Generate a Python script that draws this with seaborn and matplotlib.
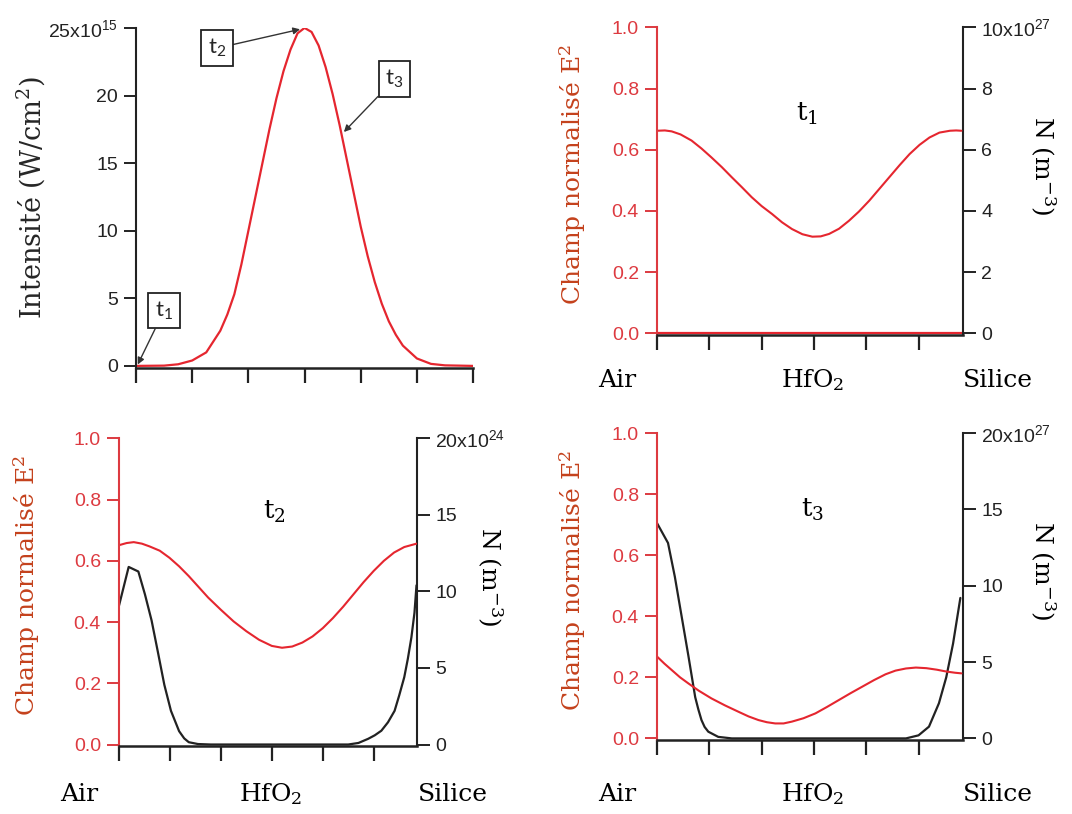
import matplotlib
matplotlib.use("Agg")
import matplotlib.pyplot as plt
import seaborn as sns

# pulse intensity (x 1e15 W/cm2) across the film
pulse_x = [0.0, 0.5, 0.75, 1.0, 1.25, 1.5, 1.625, 1.75, 1.875, 2.0, 2.125,
           2.25, 2.375, 2.5, 2.625, 2.75, 2.875, 3.0, 3.125, 3.25, 3.375,
           3.5, 3.625, 3.75, 3.875, 4.0, 4.125, 4.25, 4.375, 4.5, 4.625,
           4.75, 5.0, 5.25, 5.5, 6.0]
pulse_i = [0.0, 0.02, 0.12, 0.4, 1.0, 2.6, 3.8, 5.3, 7.5, 10.0, 12.5,
           15.0, 17.5, 19.8, 21.8, 23.4, 24.6, 25.0, 24.7, 23.7, 22.1,
           20.1, 17.8, 15.3, 12.8, 10.3, 8.1, 6.2, 4.6, 3.3, 2.3,
           1.5, 0.55, 0.15, 0.04, 0.0]

# t1: normalised field and electron density (x 1e27)
t1_x = [0.0, 0.15, 0.28, 0.45, 0.66, 0.85, 1.04, 1.24, 1.43, 1.62, 1.81,
        2.0, 2.2, 2.39, 2.58, 2.78, 2.97, 3.13, 3.29, 3.48, 3.67, 3.86,
        4.06, 4.25, 4.44, 4.64, 4.83, 5.02, 5.21, 5.4, 5.6, 5.72, 5.82]
t1_e2 = [0.662, 0.663, 0.66, 0.65, 0.63, 0.604, 0.575, 0.543, 0.51, 0.478,
         0.445, 0.416, 0.39, 0.363, 0.341, 0.324, 0.316, 0.317, 0.325,
         0.342, 0.368, 0.398, 0.434, 0.472, 0.51, 0.55, 0.586, 0.616, 0.64,
         0.656, 0.662, 0.663, 0.662]
t1_nx = [0.0, 5.85]
t1_n = [0.0, 0.0]

# t2: normalised field and electron density (x 1e24)
t2_x = [0.0, 0.15, 0.29, 0.45, 0.6, 0.8, 0.99, 1.18, 1.37, 1.56, 1.75,
        2.0, 2.25, 2.5, 2.75, 3.0, 3.2, 3.4, 3.6, 3.8, 4.0, 4.2, 4.4, 4.6,
        4.8, 5.0, 5.2, 5.4, 5.6, 5.84]
t2_e2 = [0.651, 0.658, 0.661, 0.656, 0.647, 0.633, 0.61, 0.582, 0.55,
         0.515, 0.48, 0.44, 0.402, 0.37, 0.342, 0.322, 0.316, 0.32, 0.333,
         0.353, 0.38, 0.413, 0.45, 0.49, 0.53, 0.567, 0.6, 0.627, 0.645,
         0.656]
t2_nx = [0.0, 0.19, 0.38, 0.51, 0.64, 0.76, 0.89, 1.02, 1.18, 1.28, 1.37,
         1.55, 1.8, 4.5, 4.7, 4.89, 5.02, 5.15, 5.28, 5.41, 5.5, 5.6, 5.67,
         5.74, 5.8, 5.84]
t2_n = [9.07, 11.6, 11.3, 9.8, 8.1, 6.1, 3.9, 2.2, 0.87, 0.4, 0.15, 0.03,
        0.0, 0.0, 0.1, 0.37, 0.6, 0.9, 1.45, 2.2, 3.2, 4.4, 5.6, 7.0, 8.6,
        10.4]

# t3: normalised field and electron density (x 1e27)
t3_x = [0.0, 0.14, 0.28, 0.44, 0.6, 0.8, 1.04, 1.3, 1.56, 1.75, 1.94, 2.1,
        2.26, 2.42, 2.58, 2.8, 3.03, 3.25, 3.48, 3.7, 3.92, 4.15, 4.37,
        4.56, 4.76, 4.95, 5.15, 5.35, 5.53, 5.7, 5.82]
t3_e2 = [0.268, 0.245, 0.224, 0.2, 0.18, 0.156, 0.131, 0.108, 0.087, 0.072,
         0.06, 0.053, 0.049, 0.049, 0.055, 0.066, 0.082, 0.103, 0.126,
         0.148, 0.169, 0.191, 0.21, 0.222, 0.229, 0.232, 0.23, 0.225, 0.219,
         0.215, 0.213]
t3_nx = [0.0, 0.21, 0.34, 0.47, 0.6, 0.73, 0.79, 0.85, 0.91, 0.98, 1.17,
         1.43, 4.76, 5.0, 5.2, 5.39, 5.53, 5.66, 5.8]
t3_n = [14.1, 12.8, 10.6, 8.0, 5.4, 2.7, 1.9, 1.2, 0.75, 0.44, 0.1, 0.0,
        0.0, 0.2, 0.77, 2.3, 4.0, 6.2, 9.2]

layer_names = ["Air", r"$\mathregular{HfO_2}$", "Silice"]
n_ticks_t1 = ["0", "2", "4", "6", "8", r"$\mathregular{10x10^{27}}$"]
n_ticks_t2 = ["0", "5", "10", "15", r"$\mathregular{20x10^{24}}$"]
n_ticks_t3 = ["0", "5", "10", "15", r"$\mathregular{20x10^{27}}$"]

RED = "#e5262f"
TICK_RED = "#dd3a40"
LABEL_RED = "#c4411c"
SERIF = "DejaVu Serif"
SANS = "Liberation Sans"

sns.set_style("ticks")
plt.rcParams["font.family"] = [SANS, "DejaVu Sans"]

fig = plt.figure(figsize=(10.72, 8.14), dpi=100)


def style_axis(ax, left_color):
    for side in ("top", "right"):
        ax.spines[side].set_visible(False)
    ax.spines["left"].set_color(left_color)
    ax.spines["left"].set_linewidth(1.5)
    ax.spines["bottom"].set_color("#222222")
    ax.spines["bottom"].set_linewidth(1.8)
    ax.tick_params(axis="y", direction="out", length=9, width=1.4,
                   colors=left_color, labelsize=14, pad=4)
    ax.tick_params(axis="x", direction="out", length=11, width=1.6,
                   color="#222222", labelbottom=False)
    ax.set_xlabel("")
    ax.set_ylabel("")


def field_panel(rect, xs, e2, nx, n, nmax, nlabels, n_color, title, title_xy,
                label_x, nlabel_x, text_y):
    ax = fig.add_axes(rect)
    ax2 = ax.twinx()
    sns.lineplot(x=nx, y=n, ax=ax2, color=n_color, linewidth=1.6,
                 estimator=None, sort=False)
    ax2.set_ylim(-0.005 * nmax, nmax)
    ax2.set_yticks([nmax * i / (len(nlabels) - 1) for i in range(len(nlabels))])
    ax2.set_yticklabels(nlabels)
    for side in ("top", "left", "bottom"):
        ax2.spines[side].set_visible(False)
    ax2.spines["right"].set_color("#222222")
    ax2.spines["right"].set_linewidth(1.5)
    ax2.tick_params(axis="y", direction="out", length=9, width=1.4,
                    colors="#222222", labelsize=14, pad=4)
    ax2.set_ylabel("")

    sns.lineplot(x=xs, y=e2, ax=ax, color=RED, linewidth=1.5,
                 estimator=None, sort=False)
    ax.set_zorder(ax2.get_zorder() + 1)
    ax.patch.set_visible(False)
    ax.set_xlim(0, 5.85)
    ax.set_ylim(-0.005, 1.0)
    ax.set_yticks([0.0, 0.2, 0.4, 0.6, 0.8, 1.0])
    ax.set_yticklabels(["0.0", "0.2", "0.4", "0.6", "0.8", "1.0"])
    ax.set_xticks([0, 1, 2, 3, 4, 5])
    style_axis(ax, TICK_RED)
    ax2.set_xlim(0, 5.85)

    ax.text(*title_xy, title, transform=ax.transAxes, ha="center",
            va="center", fontsize=19, family=SERIF, color="black")

    height = rect[3]
    fig.text(label_x, rect[1] + height * 0.52,
             r"Champ normalisé $\mathregular{E^2}$", rotation=90,
             ha="center", va="center", fontsize=18, family=SERIF,
             color=LABEL_RED)
    fig.text(nlabel_x, rect[1] + height * 0.55, r"N ($\mathregular{m^{-3}}$)",
             rotation=270, ha="center", va="center", fontsize=18,
             family=SERIF, color="black")
    cx = [rect[0] - 0.037, rect[0] + rect[2] * 0.51, rect[0] + rect[2] + 0.033]
    for x, name in zip(cx, layer_names):
        fig.text(x, text_y, name, ha="center", va="center", fontsize=18,
                 family=SERIF, color="black")
    return ax


# top-left: pulse intensity
ax0 = fig.add_axes([0.1269, 0.548, 0.3144, 0.4177])
sns.lineplot(x=pulse_x, y=pulse_i, ax=ax0, color=RED, linewidth=1.6,
             estimator=None, sort=False)
ax0.set_xlim(0, 6)
ax0.set_ylim(-0.15, 25)
ax0.set_yticks([0, 5, 10, 15, 20, 25])
ax0.set_yticklabels(["0", "5", "10", "15", "20",
                     r"$\mathregular{25x10^{15}}$"])
ax0.set_xticks([0, 1, 2, 3, 4, 5, 6])
style_axis(ax0, "#222222")
fig.text(0.028, 0.757, r"Intensité (W/$\mathregular{cm^2}$)", rotation=90,
         ha="center", va="center", fontsize=19.5, family=SERIF)

box = dict(boxstyle="square,pad=0.3", fc="white", ec="#222222", lw=1.3)
arrow = dict(arrowstyle="-|>", color="#333333", lw=1.0, mutation_scale=10,
             shrinkA=0, shrinkB=0)
for label, tip, pos in [(r"$\mathregular{t_1}$", (0.03, 0.1), (0.5, 4.1)),
                        (r"$\mathregular{t_2}$", (2.92, 24.9), (1.44, 23.5)),
                        (r"$\mathregular{t_3}$", (3.7, 17.3), (4.6, 21.2))]:
    ax0.annotate(label, xy=tip, xytext=pos, ha="center", va="center",
                 fontsize=16, family="Lato", bbox=box, arrowprops=arrow)

field_panel([0.6129, 0.5885, 0.2854, 0.378], t1_x, t1_e2, t1_nx, t1_n,
            10.0, n_ticks_t1, RED, r"$\mathregular{t_1}$", (0.49, 0.72),
            0.5345, 0.973, 0.533)
field_panel([0.1110, 0.0835, 0.2780, 0.378], t2_x, t2_e2, t2_nx, t2_n,
            20.0, n_ticks_t2, "#222222", r"$\mathregular{t_2}$", (0.52, 0.76),
            0.025, 0.457, 0.024)
field_panel([0.6129, 0.091, 0.2854, 0.377], t3_x, t3_e2, t3_nx, t3_n,
            20.0, n_ticks_t3, "#222222", r"$\mathregular{t_3}$", (0.51, 0.75),
            0.5345, 0.973, 0.024)

fig.savefig("out.png", dpi=100)
